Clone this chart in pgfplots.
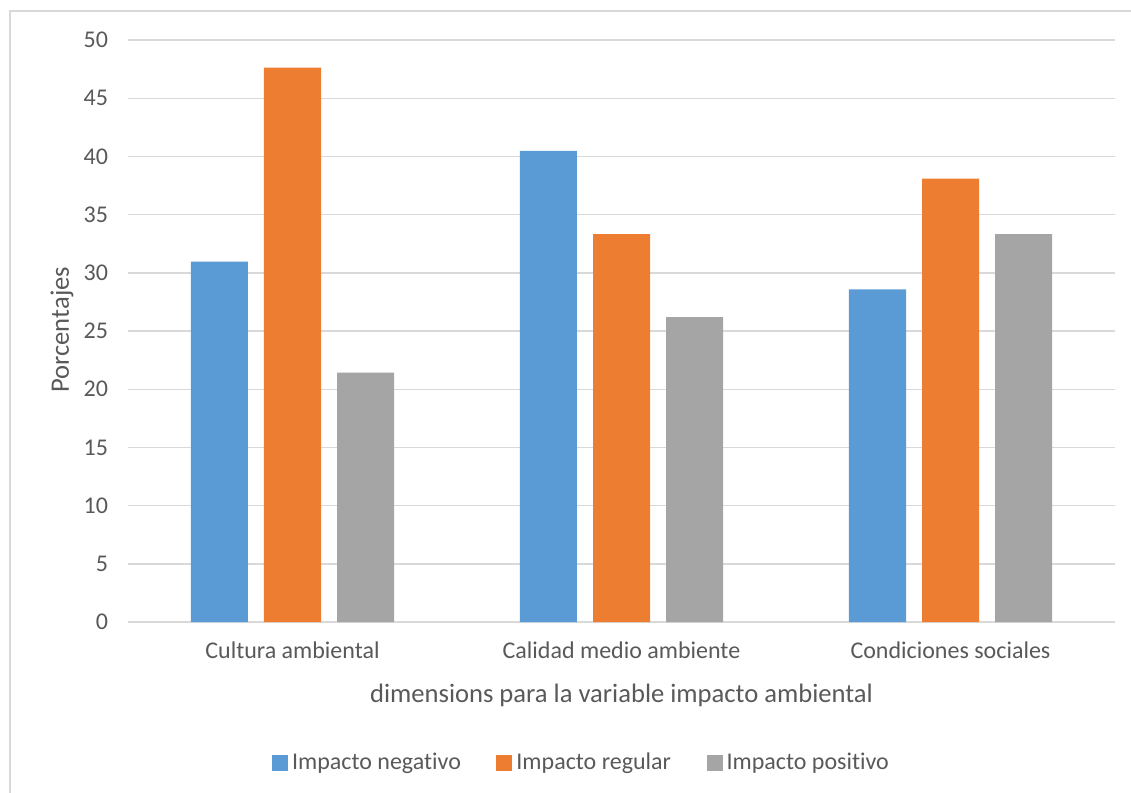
\documentclass[border=0pt]{standalone}
\usepackage{pgfplots}
\pgfplotsset{compat=1.18}
\usepackage{fontspec}
\setmainfont{Carlito}[Ligatures=NoCommon]
\definecolor{serieA}{HTML}{5B9BD5}
\definecolor{serieB}{HTML}{ED7D31}
\definecolor{serieC}{HTML}{A5A5A5}
\definecolor{gridc}{HTML}{D9D9D9}
\definecolor{textc}{HTML}{595959}
\begin{document}
\begin{tikzpicture}
\useasboundingbox (-64pt,-85.5pt) rectangle (501.5pt,311pt);
% outer chart frame
\draw[gridc, line width=0.75pt] (-59pt,-90pt) -- (-59pt,305.5pt) -- (510pt,305.5pt);
\begin{axis}[
  scale only axis,
  width=493.5pt, height=291pt,
  xmin=-0.5, xmax=2.5, ymin=0, ymax=50,
  ytick={0,5,...,50},
  xtick={0,1,2},
  xticklabels={Cultura ambiental, Calidad medio ambiente, Condiciones sociales},
  ymajorgrids,
  major grid style={gridc, line width=0.7pt},
  axis line style={draw=none},
  major tick length=0pt,
  tick label style={font=\fontsize{12}{14}\selectfont, text=textc},
  /pgf/number format/assume math mode=true,
  xticklabel style={yshift=-6.5pt},
  yticklabel style={xshift=-6.5pt},
  xlabel={dimensions para la variable impacto ambiental},
  ylabel={Porcentajes},
  label style={font=\fontsize{13.3}{16}\selectfont, text=textc},
  xlabel style={at={(axis description cs:0.5,0)}, anchor=north, yshift=-27.5pt},
  ylabel style={at={(axis description cs:-0.0669,0.502)}, anchor=center},
  ybar, bar width=28.5pt,
  legend columns=3,
  legend style={draw=none, fill=none, at={(axis description cs:0.4605,0)}, anchor=center, yshift=-70.5pt,
    font=\fontsize{12}{14}\selectfont, text=textc,
    /tikz/every even column/.append style={column sep=15.75pt}},
  legend image code/.code={\fill[#1] (-1pt,-4pt) rectangle (7pt,4pt);},
]
\addplot[fill=serieA, draw=none, bar shift=-36.5pt] coordinates {(0,30.95) (1,40.48) (2,28.57)};
\addplot[fill=serieB, draw=none, bar shift=0pt] coordinates {(0,47.62) (1,33.33) (2,38.10)};
\addplot[fill=serieC, draw=none, bar shift=36.5pt] coordinates {(0,21.43) (1,26.19) (2,33.33)};
\legend{Impacto negativo, Impacto regular, Impacto positivo}
\end{axis}
\end{tikzpicture}
\end{document}
